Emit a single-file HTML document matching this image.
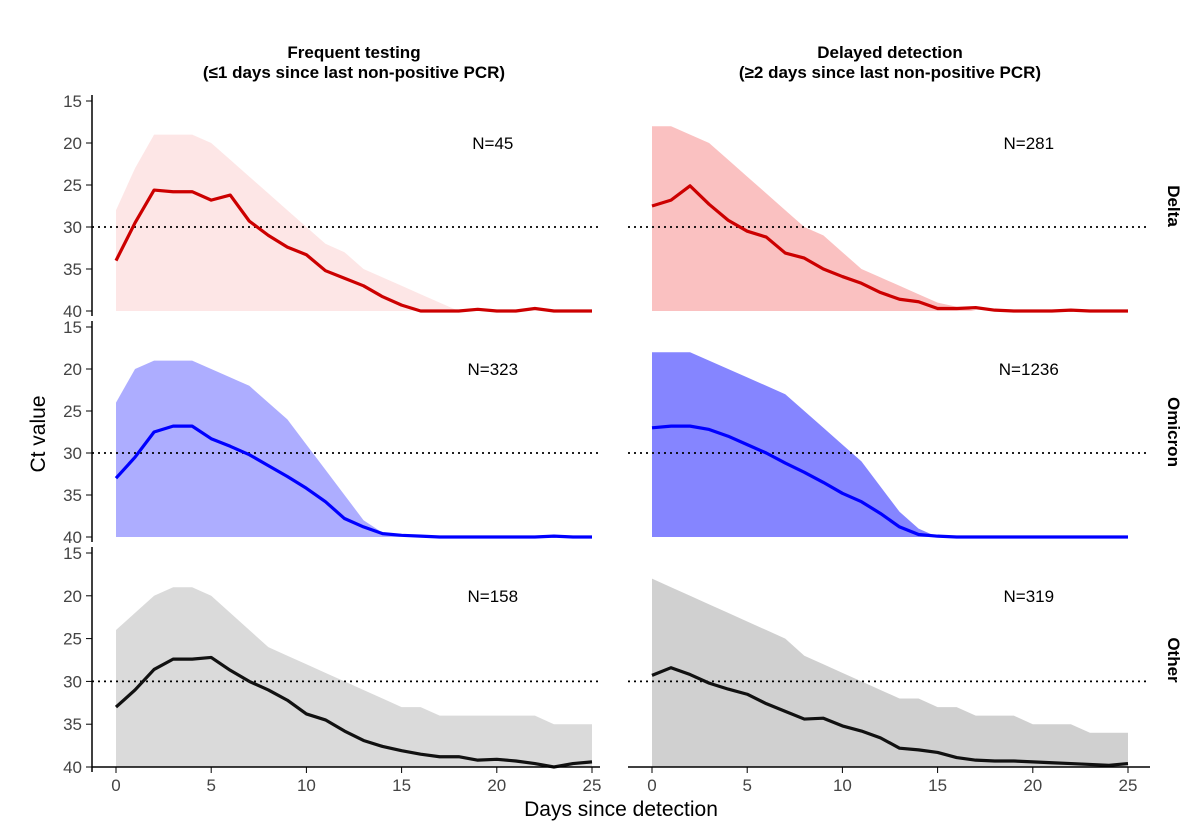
<!DOCTYPE html>
<html><head><meta charset="utf-8">
<style>
html,body{margin:0;padding:0;background:#fff;}
svg{display:block;font-family:"Liberation Sans",sans-serif;}
</style></head>
<body>
<svg id="chart" width="1200" height="834" viewBox="0 0 1200 834" xmlns="http://www.w3.org/2000/svg"></svg>
<script>
const days = [0,1,2,3,4,5,6,7,8,9,10,11,12,13,14,15,16,17,18,19,20,21,22,23,24,25];
const xTicks = [0,5,10,15,20,25];
const yTicks = [15,20,25,30,35,40];
const colTitles1 = ["Frequent testing","Delayed detection"];
const colTitles2 = ["(\u22641 days since last non-positive PCR)","(\u22652 days since last non-positive PCR)"];
const rowLabels = ["Delta","Omicron","Other"];
const nLabels = [["N=45","N=281"],["N=323","N=1236"],["N=158","N=319"]];
const threshold = 30;

const delta_freq_mean = [34,29.5,25.6,25.8,25.8,26.8,26.2,29.3,31,32.4,33.3,35.2,36.1,37,38.3,39.3,40,40,40,39.8,40,40,39.7,40,40,40];
const delta_del_mean = [27.5,26.8,25.1,27.3,29.2,30.5,31.2,33.1,33.7,35,35.9,36.7,37.8,38.6,38.9,39.7,39.7,39.6,39.9,40,40,40,39.9,40,40,40];
const omi_freq_mean = [33,30.5,27.5,26.8,26.8,28.3,29.2,30.2,31.5,32.8,34.2,35.8,37.8,38.8,39.6,39.8,39.9,40,40,40,40,40,40,39.9,40,40];
const omi_del_mean = [27,26.8,26.8,27.2,28,29,30,31.2,32.3,33.5,34.8,35.8,37.2,38.8,39.7,39.9,40,40,40,40,40,40,40,40,40,40];
const other_freq_mean = [33,31,28.6,27.4,27.4,27.2,28.7,30,31,32.2,33.8,34.5,35.8,36.9,37.6,38.1,38.5,38.8,38.8,39.2,39.1,39.3,39.6,40,39.6,39.4];
const other_del_mean = [29.3,28.4,29.2,30.2,30.9,31.5,32.6,33.5,34.4,34.3,35.2,35.8,36.6,37.8,38,38.3,38.9,39.2,39.3,39.3,39.4,39.5,39.6,39.7,39.8,39.6];

const delta_freq_upper = [28,23,19,19,19,20,22,24,26,28,30,32,33,35,36,37,38,39,40,40,40,40,40,40,40,40];
const delta_del_upper = [18,18,19,20,22,24,26,28,30,31,33,35,36,37,38,39,39.5,40,40,40,40,40,40,40,40,40];
const omi_freq_upper = [24,20,19,19,19,20,21,22,24,26,29,32,35,38,39.5,40,40,40,40,40,40,40,40,40,40,40];
const omi_del_upper = [18,18,18,19,20,21,22,23,25,27,29,31,34,37,39,40,40,40,40,40,40,40,40,40,40,40];
const other_freq_upper = [24,22,20,19,19,20,22,24,26,27,28,29,30,31,32,33,33,34,34,34,34,34,34,35,35,35];
const other_del_upper = [18,19,20,21,22,23,24,25,27,28,29,30,31,32,32,33,33,34,34,34,35,35,35,36,36,36];

const means = [[delta_freq_mean,delta_del_mean],[omi_freq_mean,omi_del_mean],[other_freq_mean,other_del_mean]];
const uppers = [[delta_freq_upper,delta_del_upper],[omi_freq_upper,omi_del_upper],[other_freq_upper,other_del_upper]];

const colors = ["#cc0000","#0000ff","#111111"];
const cloudColors = ["#e33","#33f","#555"];
const cloudOpacity = [[0.12,0.3],[0.4,0.6],[0.22,0.28]];
const colX0 = [116,652], pxPerDay = 19.04;
const rowTop = [101,327,553], rowBot = [311,537,767];
const NS = "http://www.w3.org/2000/svg";
const svg = document.getElementById("chart");
function mk(tag, attrs, parent){const e=document.createElementNS(NS,tag);for(const k in attrs)e.setAttribute(k,attrs[k]);(parent||svg).appendChild(e);return e;}
function xs(c,d){return colX0[c]+d*pxPerDay;}
function ys(r,v){return rowTop[r]+(v-15)/25*(rowBot[r]-rowTop[r]);}

for(let c=0;c<2;c++){
  const cx=(xs(c,0)+xs(c,25))/2;
  const t1=mk("text",{x:cx,y:58,"text-anchor":"middle","font-size":17,"font-weight":"bold",fill:"#000"});
  t1.textContent=colTitles1[c];
  
  
  const t2=mk("text",{x:cx,y:78,"text-anchor":"middle","font-size":17,"font-weight":"bold",fill:"#000"});
  t2.textContent=colTitles2[c];
  
  
}

for(let r=0;r<3;r++){
  const ax=mk("line",{x1:92,x2:92,y1:rowTop[r]-6,y2:rowBot[r]+5,stroke:"#000","stroke-width":1.5});
  
  
  yTicks.forEach(v=>{
    const y=ys(r,v);
    mk("line",{x1:86,x2:92,y1:y,y2:y,stroke:"#000","stroke-width":1});
    const tl=mk("text",{x:82,y:y+6,"text-anchor":"end","font-size":17,fill:"#444"});
    tl.textContent=v;
    
    
  });
  const cy=(rowTop[r]+rowBot[r])/2;
  const rl=mk("text",{x:1168,y:cy,"text-anchor":"middle","font-size":17,"font-weight":"bold",fill:"#000",transform:`rotate(90 1168 ${cy})`});
  rl.textContent=rowLabels[r];
  
  

  for(let c=0;c<2;c++){
    const up=uppers[r][c];
    let d="M"+xs(c,days[0])+","+ys(r,40);
    days.forEach((dd,i)=>{d+=" L"+xs(c,dd)+","+ys(r,up[i]);});
    d+=" L"+xs(c,days[days.length-1])+","+ys(r,40)+" Z";
    const cl=mk("path",{d:d,fill:cloudColors[r],"fill-opacity":cloudOpacity[r][c],stroke:"none"});
    
    
    const th=mk("line",{x1:c===0?92:628,x2:c===0?600:1150,y1:ys(r,threshold),y2:ys(r,threshold),stroke:"#000","stroke-width":1.8,"stroke-dasharray":"2,4"});
    
    
    const m=means[r][c];
    const pts=days.map((dd,i)=>xs(c,dd)+","+ys(r,m[i])).join(" ");
    const ml=mk("polyline",{points:pts,fill:"none",stroke:colors[r],"stroke-width":3.2,"stroke-linejoin":"round"});
    
    
    const nl=mk("text",{x:xs(c,20)-4,y:ys(r,20)+6,"text-anchor":"middle","font-size":17,fill:"#000"});
    nl.textContent=nLabels[r][c];
    
    
  }
}
for(let c=0;c<2;c++){
  const xa=mk("line",{x1:c===0?92:628,x2:c===0?600:1150,y1:767,y2:767,stroke:"#000","stroke-width":1.5});
  
  
  xTicks.forEach(v=>{
    const x=xs(c,v);
    mk("line",{x1:x,x2:x,y1:767,y2:773,stroke:"#000","stroke-width":1});
    const tl=mk("text",{x:x,y:791,"text-anchor":"middle","font-size":17,fill:"#444"});
    tl.textContent=v;
    
    
  });
}
const xt=mk("text",{x:621,y:816,"text-anchor":"middle","font-size":21,fill:"#000"});
xt.textContent="Days since detection";


const yt=mk("text",{x:45,y:434,"text-anchor":"middle","font-size":21,fill:"#000",transform:"rotate(-90 45 434)"});
yt.textContent="Ct value";


</script>
</body></html>
